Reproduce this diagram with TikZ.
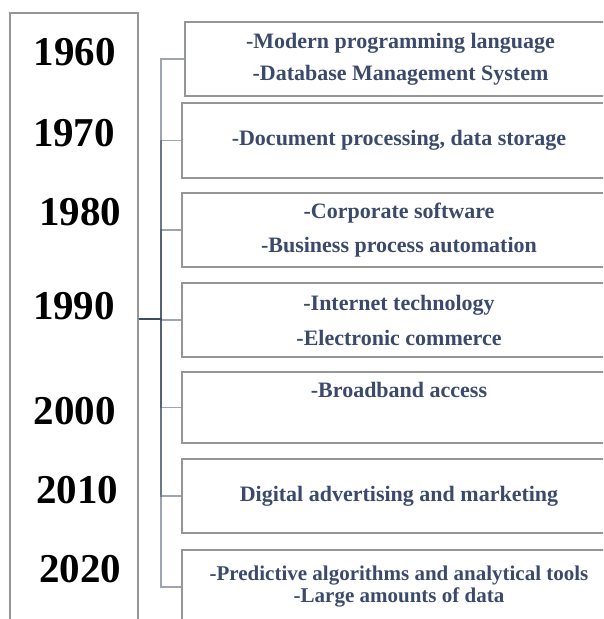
\documentclass[tikz,border=0pt]{standalone}
\usepackage{fontspec}
\setmainfont{Liberation Serif}
\usetikzlibrary{positioning}
\definecolor{boxtext}{RGB}{59,74,107}
\definecolor{framegray}{RGB}{150,150,150}
\definecolor{linkblue}{RGB}{60,75,100}
\tikzstyle{yearcol} = [
    rectangle,
    minimum width=128pt,
    minimum height=637pt,
    line width=1.2pt,
    draw=framegray
]
\tikzstyle{year} = [
    font=\fontsize{41}{41}\selectfont\bfseries,
    text depth=0pt,
    inner sep=0pt
]
\tikzstyle{period} = [
    rectangle,
    minimum width=434pt,
    minimum height=74pt,
    line width=1.2pt,
    draw=framegray,
    align=center,
    text=boxtext,
    font=\fontsize{22}{34}\selectfont\bfseries
]
\tikzstyle{branch} = [line width=1.3pt, draw=linkblue, opacity=0.5]

\begin{document}
\begin{tikzpicture}[x=1pt, y=-1pt]
\useasboundingbox (0,0) rectangle (603,619);
\clip (0,0) rectangle (603,619);

\node (years) [yearcol] at (74,331.5) {};

\node (y1960) [year] at (75,52) {1960};
\node (y1970) [year] at (74,133) {1970};
\node (y1980) [year] at (80,212) {1980};
\node (y1990) [year] at (74,306) {1990};
\node (y2000) [year] at (75,411) {2000};
\node (y2010) [year] at (77,490) {2010};
\node (y2020) [year] at (80,569) {2020};

\node (p1960) [period, minimum width=431pt] at (400.5,59)
{-Modern programming language\\[-2pt]-Database Management System};

\node (p1970) [period, minimum height=75pt] at (399,140.5)
{-Document processing, data storage};

\node (p1980) [period] at (399,230)
{-Corporate software\\-Business process automation};

\node (p1990) [period] at (399,320)
{-Internet technology\\[1pt]-Electronic commerce};

\node (p2000) [period, minimum height=71pt] at (399,407.5)
{-Broadband access\\[2pt]\mbox{}};

\node (p2010) [period] at (399,496)
{Digital advertising and marketing};

\node (p2020) [period, font=\fontsize{21}{34}\selectfont\bfseries] at (399,587)
{-Predictive algorithms and analytical tools\\[-12pt]-Large amounts of data};

\coordinate (root) at (years.east |- 0,319);
\coordinate (trunk) at (161,319);

\draw [branch] (root) -- (trunk) |- (p1960.west);
\draw [branch] (root) -- (trunk) |- (p1970.west);
\draw [branch] (root) -- (trunk) |- (p1980.west);
\draw [branch] (root) -- (trunk) |- (p1990.west);
\draw [branch] (root) -- (trunk) |- (p2000.west);
\draw [branch] (root) -- (trunk) |- (p2010.west);
\draw [branch] (root) -- (trunk) |- (p2020.west);

\end{tikzpicture}
\end{document}
